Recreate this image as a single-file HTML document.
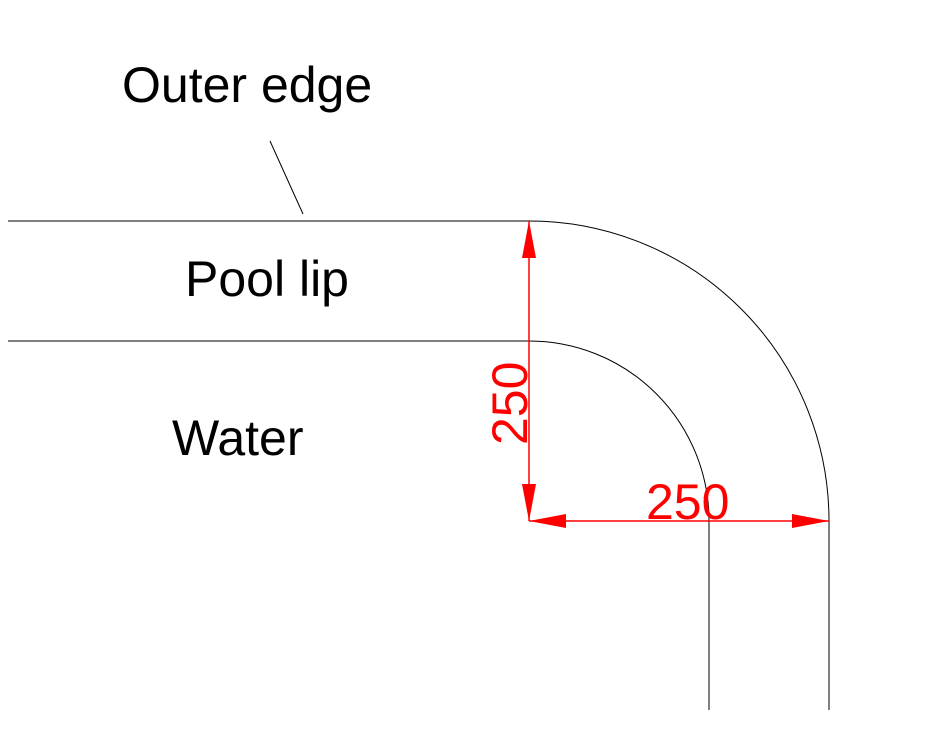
<!DOCTYPE html>
<html><head><style>body{margin:0;background:#fff}svg{display:block}</style></head>
<body>
<svg width="932" height="732" viewBox="0 0 932 732" xmlns="http://www.w3.org/2000/svg">
<g fill="none" stroke="#000" stroke-width="1">
<path d="M8 221 H529 A300 300 0 0 1 829 521 V710" stroke="#000"/>
<path d="M8 341 H529 A180 180 0 0 1 709 521 V710"/>
<line x1="270" y1="141" x2="303" y2="214"/>
</g>
<g stroke="#f00" stroke-width="1.5">
<line x1="529" y1="221" x2="529" y2="521"/>
<line x1="529" y1="521" x2="829" y2="521"/>
</g>
<g fill="#f00">
<polygon points="529,221 522,258 536,258"/>
<polygon points="529,521 522,484 536,484"/>
<polygon points="529,521 566,514 566,528"/>
<polygon points="829,521 792,514 792,528"/>
</g>
<g font-family="Liberation Sans, sans-serif" font-size="50" fill="#000">
<text x="122" y="102">Outer edge</text>
<text x="185" y="296">Pool lip</text>
<text x="172" y="455">Water</text>
</g>
<g font-family="Liberation Sans, sans-serif" font-size="50" fill="#f00">
<text x="646" y="519">250</text>
<text transform="translate(527,445) rotate(-90)">250</text>
</g>
</svg>
</body></html>
